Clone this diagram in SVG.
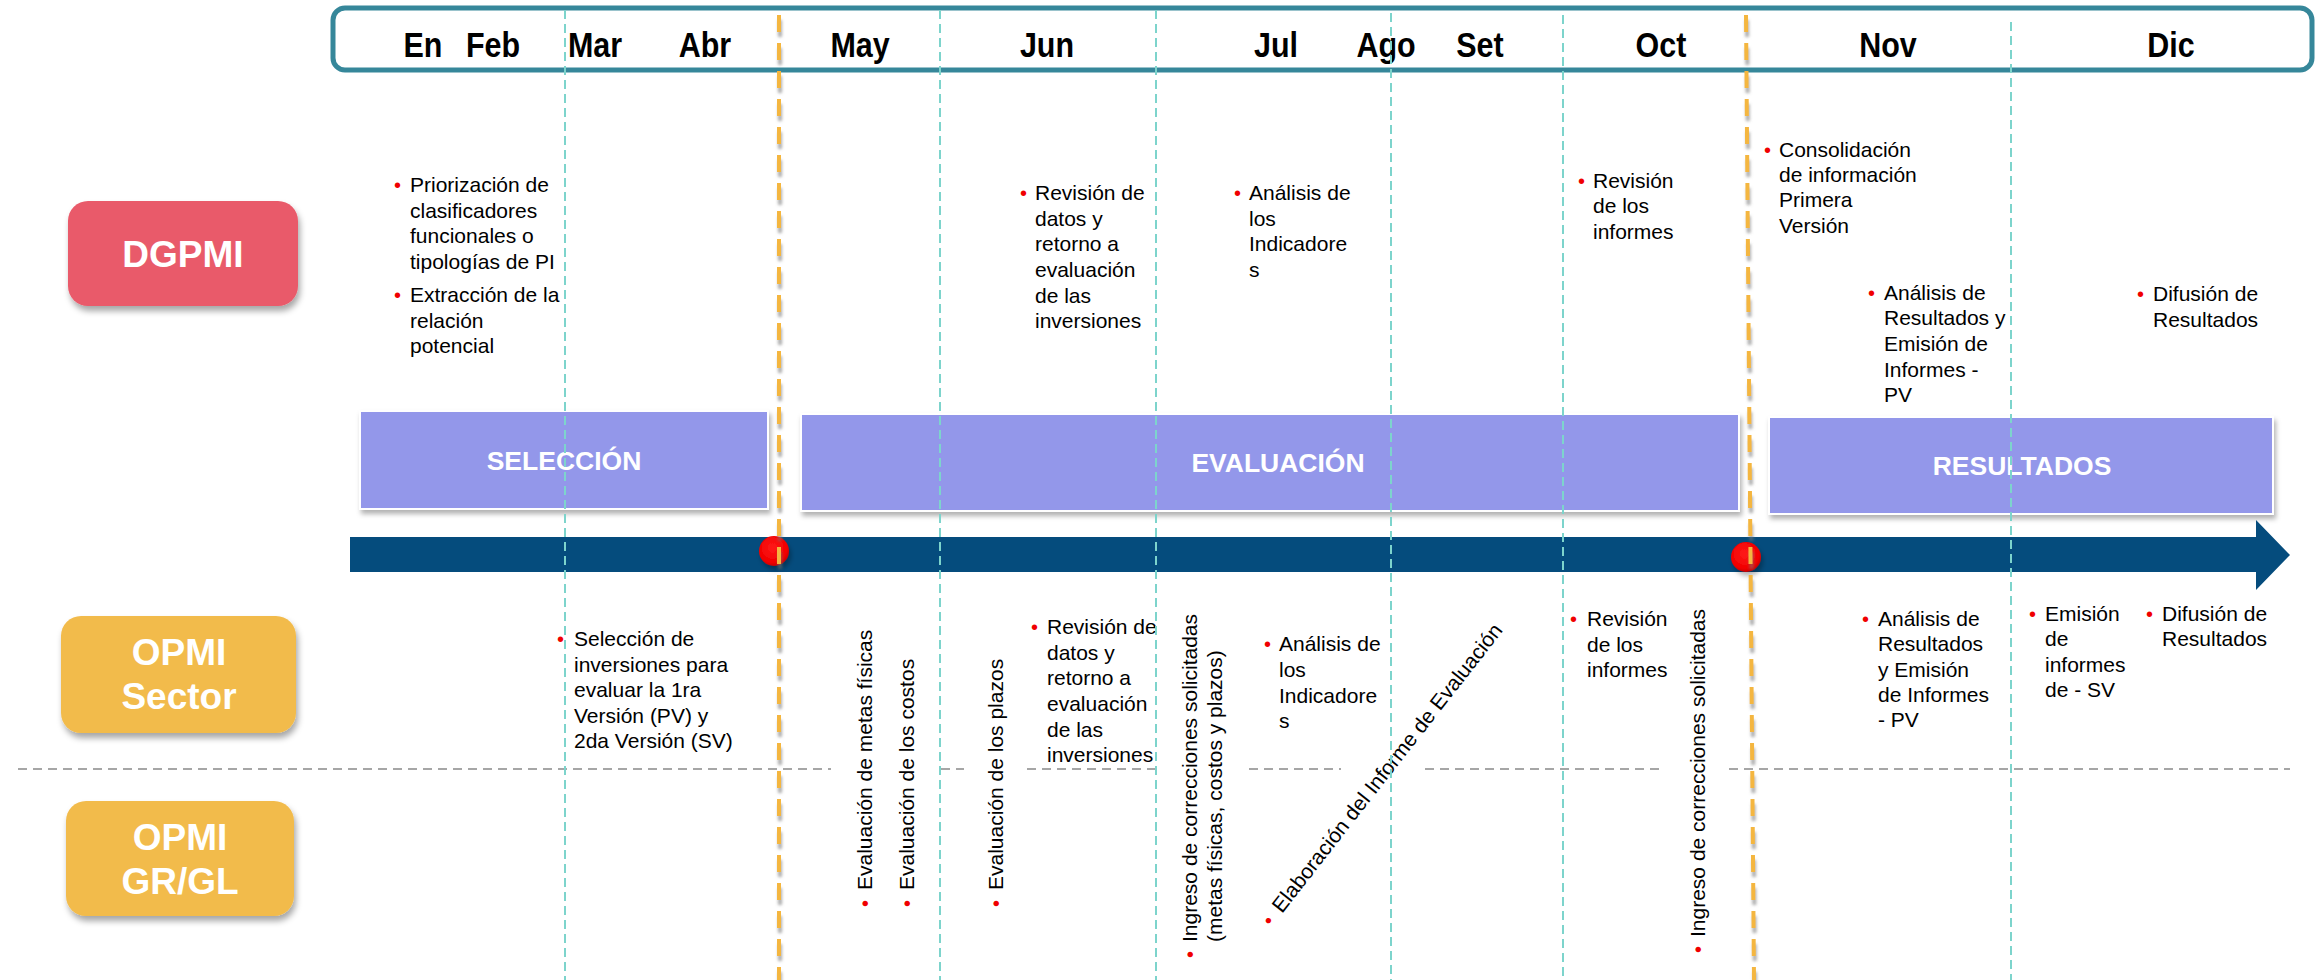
<svg xmlns="http://www.w3.org/2000/svg" width="2318" height="980" viewBox="0 0 2318 980">
<defs>
<filter id="sh" x="-10%" y="-20%" width="130%" height="150%">
<feDropShadow dx="2" dy="5" stdDeviation="3" flood-color="#000" flood-opacity="0.35"/>
</filter>
<filter id="shl" x="-10%" y="-20%" width="130%" height="150%">
<feDropShadow dx="2" dy="4" stdDeviation="2.5" flood-color="#000" flood-opacity="0.3"/>
</filter>
<filter id="osh" filterUnits="userSpaceOnUse" x="0" y="0" width="2318" height="980">
<feDropShadow dx="1" dy="5" stdDeviation="1.5" flood-color="#777" flood-opacity="0.6"/>
</filter>
<radialGradient id="rg" cx="45%" cy="40%" r="60%">
<stop offset="0" stop-color="#FF1A1A"/>
<stop offset="0.8" stop-color="#F00000"/>
<stop offset="1" stop-color="#C80000"/>
</radialGradient>
</defs>
<style>
.mon{font-family:"Liberation Sans",Arial,sans-serif;font-weight:bold;font-size:35px;fill:#000;text-anchor:middle}
.nd{font-family:"Liberation Sans",Arial,sans-serif;font-weight:bold;font-size:37px;fill:#fff;text-anchor:middle}
.ph{font-family:"Liberation Sans",Arial,sans-serif;font-weight:bold;font-size:26.5px;fill:#fff;text-anchor:middle}
.t{font-family:"Liberation Sans",Arial,sans-serif;font-size:21px;fill:#000}
.b{font-family:"Liberation Sans",Arial,sans-serif;font-size:20px;fill:#F00000}
.cy{stroke:#7DD4CC;stroke-width:2;stroke-dasharray:9 5;fill:none}
.gr{stroke:#A6A6A6;stroke-width:2;stroke-dasharray:9 6;fill:none}
.or{stroke:#F4B63F;stroke-width:4;stroke-dasharray:17 11;fill:none}
.phb{fill:#9397EA;stroke:#fff;stroke-width:2}
</style>
<rect x="0" y="0" width="2318" height="980" fill="#fff"/>

<g id="header">
<rect x="333" y="8" width="1979" height="62" rx="12" ry="12" fill="#fff" stroke="#36879A" stroke-width="5"/>
<text class="mon" transform="translate(423,57) scale(0.87,1)">En</text>
<text class="mon" transform="translate(493,57) scale(0.87,1)">Feb</text>
<text class="mon" transform="translate(595,57) scale(0.87,1)">Mar</text>
<text class="mon" transform="translate(705,57) scale(0.87,1)">Abr</text>
<text class="mon" transform="translate(860,57) scale(0.87,1)">May</text>
<text class="mon" transform="translate(1047,57) scale(0.87,1)">Jun</text>
<text class="mon" transform="translate(1276,57) scale(0.87,1)">Jul</text>
<text class="mon" transform="translate(1386,57) scale(0.87,1)">Ago</text>
<text class="mon" transform="translate(1480,57) scale(0.87,1)">Set</text>
<text class="mon" transform="translate(1661,57) scale(0.87,1)">Oct</text>
<text class="mon" transform="translate(1888,57) scale(0.87,1)">Nov</text>
<text class="mon" transform="translate(2171,57) scale(0.87,1)">Dic</text>
</g>

<g id="separator">
<path class="gr" d="M18 769H831M941 769H964M1027 769H1155M1249 769H1341M1425 769H1664M1729 769H2290"/>
</g>

<g id="node-dgpmi">
<rect x="68" y="201" width="230" height="105" rx="20" ry="20" fill="#E95A6A" filter="url(#sh)"/>
<text class="nd" x="183" y="267">DGPMI</text>
</g>
<g id="node-opmi-sector">
<rect x="61" y="616" width="235" height="117" rx="20" ry="20" fill="#F2BB4C" filter="url(#sh)"/>
<text class="nd" x="179" y="665">OPMI</text>
<text class="nd" x="179" y="709">Sector</text>
</g>
<g id="node-opmi-grgl">
<rect x="66" y="801" width="228" height="115" rx="20" ry="20" fill="#F2BB4C" filter="url(#sh)"/>
<text class="nd" x="180" y="850">OPMI</text>
<text class="nd" x="180" y="894">GR/GL</text>
</g>

<g id="phase-seleccion">
<rect class="phb" x="360" y="411" width="408" height="98" filter="url(#shl)"/>
<text class="ph" x="564" y="470">SELECCIÓN</text>
</g>
<g id="phase-evaluacion">
<rect class="phb" x="801" y="414" width="938" height="97" filter="url(#shl)"/>
<text class="ph" x="1278" y="472">EVALUACIÓN</text>
</g>
<g id="phase-resultados">
<rect class="phb" x="1769" y="417" width="504" height="97" filter="url(#shl)"/>
<text class="ph" x="2022" y="475">RESULTADOS</text>
</g>

<g id="timeline-arrow">
<path d="M350 537H2256V520L2290 555L2256 590V572H350Z" fill="#054C7D"/>
</g>

<g id="dgpmi-tasks">
<text class="b" x="394" y="192">•</text>
<text class="t"><tspan x="410" y="192">Priorización de</tspan><tspan x="410" y="218">clasificadores</tspan><tspan x="410" y="243">funcionales o</tspan><tspan x="410" y="269">tipologías de PI</tspan></text>
<text class="b" x="394" y="302">•</text>
<text class="t"><tspan x="410" y="302">Extracción de la</tspan><tspan x="410" y="328">relación</tspan><tspan x="410" y="353">potencial</tspan></text>
<text class="b" x="1020" y="200">•</text>
<text class="t"><tspan x="1035" y="200">Revisión de</tspan><tspan x="1035" y="226">datos y</tspan><tspan x="1035" y="251">retorno a</tspan><tspan x="1035" y="277">evaluación</tspan><tspan x="1035" y="303">de las</tspan><tspan x="1035" y="328">inversiones</tspan></text>
<text class="b" x="1234" y="200">•</text>
<text class="t"><tspan x="1249" y="200">Análisis de</tspan><tspan x="1249" y="226">los</tspan><tspan x="1249" y="251">Indicadore</tspan><tspan x="1249" y="277">s</tspan></text>
<text class="b" x="1578" y="188">•</text>
<text class="t"><tspan x="1593" y="188">Revisión</tspan><tspan x="1593" y="213">de los</tspan><tspan x="1593" y="239">informes</tspan></text>
<text class="b" x="1764" y="157">•</text>
<text class="t"><tspan x="1779" y="157">Consolidación</tspan><tspan x="1779" y="182">de información</tspan><tspan x="1779" y="207">Primera</tspan><tspan x="1779" y="233">Versión</tspan></text>
<text class="b" x="1868" y="300">•</text>
<text class="t"><tspan x="1884" y="300">Análisis de</tspan><tspan x="1884" y="325">Resultados y</tspan><tspan x="1884" y="351">Emisión de</tspan><tspan x="1884" y="377">Informes -</tspan><tspan x="1884" y="402">PV</tspan></text>
<text class="b" x="2137" y="301">•</text>
<text class="t"><tspan x="2153" y="301">Difusión de</tspan><tspan x="2153" y="327">Resultados</tspan></text>
</g>

<g id="opmi-tasks">
<text class="b" x="557" y="646">•</text>
<text class="t"><tspan x="574" y="646">Selección de</tspan><tspan x="574" y="672">inversiones para</tspan><tspan x="574" y="697">evaluar la 1ra</tspan><tspan x="574" y="723">Versión (PV) y</tspan><tspan x="574" y="748">2da Versión (SV)</tspan></text>
<text class="b" x="1031" y="634">•</text>
<text class="t"><tspan x="1047" y="634">Revisión de</tspan><tspan x="1047" y="660">datos y</tspan><tspan x="1047" y="685">retorno a</tspan><tspan x="1047" y="711">evaluación</tspan><tspan x="1047" y="737">de las</tspan><tspan x="1047" y="762">inversiones</tspan></text>
<text class="b" x="1264" y="651">•</text>
<text class="t"><tspan x="1279" y="651">Análisis de</tspan><tspan x="1279" y="677">los</tspan><tspan x="1279" y="703">Indicadore</tspan><tspan x="1279" y="728">s</tspan></text>
<text class="b" x="1570" y="626">•</text>
<text class="t"><tspan x="1587" y="626">Revisión</tspan><tspan x="1587" y="652">de los</tspan><tspan x="1587" y="677">informes</tspan></text>
<text class="b" x="1862" y="626">•</text>
<text class="t"><tspan x="1878" y="626">Análisis de</tspan><tspan x="1878" y="651">Resultados</tspan><tspan x="1878" y="677">y Emisión</tspan><tspan x="1878" y="702">de Informes</tspan><tspan x="1878" y="727">- PV</tspan></text>
<text class="b" x="2029" y="621">•</text>
<text class="t"><tspan x="2045" y="621">Emisión</tspan><tspan x="2045" y="646">de</tspan><tspan x="2045" y="672">informes</tspan><tspan x="2045" y="697">de - SV</tspan></text>
<text class="b" x="2146" y="621">•</text>
<text class="t"><tspan x="2162" y="621">Difusión de</tspan><tspan x="2162" y="646">Resultados</tspan></text>

<g transform="translate(872,890) rotate(-90)"><text class="b" x="-17" y="0">•</text><text class="t" x="0" y="0">Evaluación de metas físicas</text></g>
<g transform="translate(914,890) rotate(-90)"><text class="b" x="-17" y="0">•</text><text class="t" x="0" y="0">Evaluación de los costos</text></g>
<g transform="translate(1003,890) rotate(-90)"><text class="b" x="-17" y="0">•</text><text class="t" x="0" y="0">Evaluación de los plazos</text></g>
<g transform="translate(1197,942) rotate(-90)"><text class="b" x="-16" y="0">•</text><text class="t"><tspan x="0" y="0">Ingreso de correcciones solicitadas</tspan><tspan x="0" y="25">(metas físicas, costos y plazos)</tspan></text></g>
<g transform="translate(1282,914) rotate(-52)"><text class="b" x="-17" y="0">•</text><text class="t" x="0" y="0">Elaboración del Informe de Evaluación</text></g>
<g transform="translate(1705,937) rotate(-90)"><text class="b" x="-16" y="0">•</text><text class="t" x="0" y="0">Ingreso de correcciones solicitadas</text></g>
</g>

<g id="month-dividers">
<path class="cy" d="M565 10V980M940 10V980M1156 10V980M1391 13V980M1563 15V980M2011 22V980"/>
</g>

<g id="milestones">
<circle cx="774" cy="551" r="15" fill="url(#rg)" filter="url(#shl)"/>
<circle cx="1746" cy="557" r="15" fill="url(#rg)" filter="url(#shl)"/>
</g>

<g id="phase-dividers">
<path class="or" d="M779 15V980" filter="url(#osh)"/>
<path class="or" d="M1746 15L1754 980" filter="url(#osh)"/>
</g>
</svg>
